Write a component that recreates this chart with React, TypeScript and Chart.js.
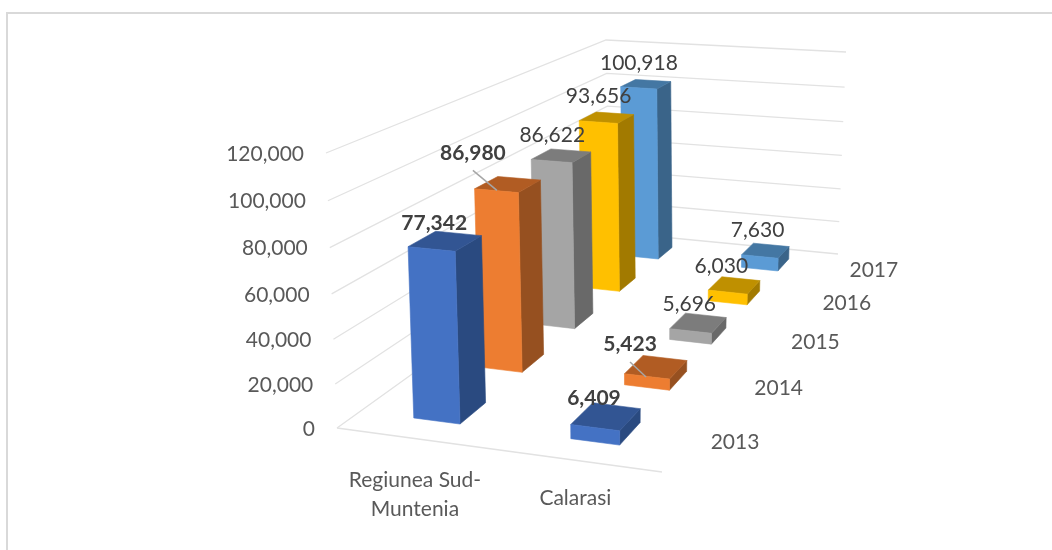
import React, { useEffect, useRef } from "react";
import { Chart, BarController, registerables } from "chart.js";

const categories = ["Regiunea Sud-Muntenia", "Calarasi"];
const categoryLines = [["Regiunea Sud-", "Muntenia"], ["Calarasi"]];
const years = ["2013", "2014", "2015", "2016", "2017"];
const v2013 = [77342, 6409];
const v2014 = [86980, 5423];
const v2015 = [86622, 5696];
const v2016 = [93656, 6030];
const v2017 = [100918, 7630];
const seriesValues = [v2013, v2014, v2015, v2016, v2017];
const frontColors = ["#4472c4", "#ed7d31", "#a5a5a5", "#ffc000", "#5b9bd5"];
const topColors = ["#325593", "#b15c23", "#7c7c7c", "#bf9000", "#4477a3"];
const sideColors = ["#2a4a80", "#965020", "#696969", "#a27a00", "#3a6489"];
const boldSeries = [true, true, false, false, false];
// label shift from the top-centre of each projected bar: [series][category][dx, dy]
const labelShift = [
  [[-11, -18], [-12, -18]],
  [[-35, -31], [-26, -23]],
  [[-9, -20], [-9, -19]],
  [[-8, -21], [-13, -19]],
  [[-7, -21], [-8, -20]],
];
const leaderLines: Record<string, number[]> = { "1-0": [0, 17, 24, 37], "1-1": [0, 18, 16, 33] };
const categoryShift = [[0, 42], [-2, 38]];

// wall corners of the 3D box on screen (px)
const FLOOR = [[337, 428], [662, 472], [838, 254], [610, 232]];
const CEIL = [[326, 153], [667, 182], [846, 52], [606, 40]];
const BAR_W = 0.3;
const BAR_D = 0.39;
const HEIGHT_PERSPECTIVE = 0.05;

type H = number[];
function homography(q: number[][]): H {
  const [[x0, y0], [x1, y1], [x2, y2], [x3, y3]] = q;
  const dx1 = x1 - x2, dx2 = x3 - x2, sx = x0 - x1 + x2 - x3;
  const dy1 = y1 - y2, dy2 = y3 - y2, sy = y0 - y1 + y2 - y3;
  const den = dx1 * dy2 - dx2 * dy1;
  const g = (sx * dy2 - dx2 * sy) / den;
  const h = (dx1 * sy - sx * dy1) / den;
  return [x1 - x0 + g * x1, x3 - x0 + h * x3, x0, y1 - y0 + g * y1, y3 - y0 + h * y3, y0, g, h];
}
const HF = homography(FLOOR);
const HC = homography(CEIL);
function ap(m: H, u: number, v: number) {
  const w = m[6] * u + m[7] * v + 1;
  return [(m[0] * u + m[1] * v + m[2]) / w, (m[3] * u + m[4] * v + m[5]) / w];
}
function project(u: number, v: number, h: number) {
  const a = ap(HF, u, v), b = ap(HC, u, v);
  const t = h / (1 + HEIGHT_PERSPECTIVE * (1 - h));
  return [a[0] + (b[0] - a[0]) * t, a[1] + (b[1] - a[1]) * t];
}
function poly(ctx: CanvasRenderingContext2D, pts: number[][], fill: string) {
  ctx.beginPath();
  pts.forEach((p, i) => (i ? ctx.lineTo(p[0], p[1]) : ctx.moveTo(p[0], p[1])));
  ctx.closePath();
  ctx.fillStyle = fill;
  ctx.strokeStyle = fill;
  ctx.lineWidth = 0.6;
  ctx.fill();
  ctx.stroke();
}
function frac(scale: any, v: number) {
  return scale.getDecimalForPixel(scale.getPixelForValue(v));
}
function barBox(chart: any, j: number, i: number) {
  const { x, y, depth } = chart.scales;
  const uc = frac(x, i), vc = frac(depth, j);
  const du = (BAR_W * 0.5) / categories.length, dv = (BAR_D * 0.5) / years.length;
  const h = frac(y, seriesValues[j][i]);
  return { u0: uc - du, u1: uc + du, v0: vc - dv, v1: vc + dv, h, uc, vc };
}

class Bar3DController extends BarController {
  static id = "bar3d";
  static defaults = BarController.defaults;
  static overrides = BarController.overrides;
  draw() {
    const chart: any = this.chart;
    const ctx = chart.ctx;
    const j = this.index;
    categories.forEach((_c, i) => {
      const b = barBox(chart, j, i);
      const fbl = project(b.u0, b.v0, 0), fbr = project(b.u1, b.v0, 0), bbr = project(b.u1, b.v1, 0);
      const ftl = project(b.u0, b.v0, b.h), ftr = project(b.u1, b.v0, b.h);
      const btr = project(b.u1, b.v1, b.h), btl = project(b.u0, b.v1, b.h);
      poly(ctx, [fbr, bbr, btr, ftr], sideColors[j]);
      poly(ctx, [ftl, ftr, btr, btl], topColors[j]);
      poly(ctx, [fbl, fbr, ftr, ftl], frontColors[j]);
    });
  }
}
Chart.register(...registerables, Bar3DController);

const FONT = "Lato";
const wallsPlugin = {
  id: "walls",
  beforeDatasetsDraw(chart: any) {
    const { ctx } = chart;
    const yS = chart.scales.y;
    ctx.save();
    ctx.strokeStyle = "#d9d9d9";
    ctx.lineWidth = 2;
    ctx.beginPath();
    ctx.moveTo(7, 550);
    ctx.lineTo(7, 13);
    ctx.lineTo(1052, 13);
    ctx.stroke();
    ctx.strokeStyle = "#e2e2e2";
    ctx.lineWidth = 1.3;
    yS.ticks.forEach((t: any) => {
      const h = frac(yS, t.value);
      const a = project(0, 0, h), b = project(0, 1, h), c = project(1, 1, h);
      ctx.beginPath();
      ctx.moveTo(a[0], a[1]);
      ctx.lineTo(b[0], b[1]);
      ctx.lineTo(c[0], c[1]);
      ctx.stroke();
      ctx.fillStyle = "#595959";
      ctx.font = `21px ${FONT}`;
      ctx.textAlign = "right";
      ctx.textBaseline = "middle";
      ctx.fillText(t.value.toLocaleString("en-US"), a[0] - 22, a[1] + 1);
    });
    const p = project(0, 0, 0), q = project(1, 0, 0);
    ctx.beginPath();
    ctx.moveTo(p[0], p[1]);
    ctx.lineTo(q[0], q[1]);
    ctx.stroke();
    ctx.font = `21px ${FONT}`;
    ctx.textAlign = "center";
    ctx.fillStyle = "#595959";
    const xS = chart.scales.x, dS = chart.scales.depth;
    categoryLines.forEach((lines, i) => {
      const a = project(frac(xS, i), 0, 0);
      const s = categoryShift[i];
      lines.forEach((l, k) => ctx.fillText(l, a[0] + s[0], a[1] + s[1] + k * 29));
    });
    years.forEach((yr, j) => {
      const a = project(1, frac(dS, j), 0);
      ctx.fillText(yr, a[0] + 48, a[1] + 1);
    });
    ctx.restore();
  },
  afterDatasetsDraw(chart: any) {
    const { ctx } = chart;
    ctx.save();
    ctx.textAlign = "center";
    ctx.textBaseline = "middle";
    seriesValues.forEach((vals, j) => {
      vals.forEach((val, i) => {
        const b = barBox(chart, j, i);
        const top = project(b.uc, b.vc, b.h);
        const s = labelShift[j][i];
        const lx = top[0] + s[0], ly = top[1] + s[1];
        const ln = leaderLines[`${j}-${i}`];
        if (ln) {
          ctx.strokeStyle = "#a6a6a6";
          ctx.lineWidth = 1.5;
          ctx.beginPath();
          ctx.moveTo(lx + ln[0], ly + ln[1]);
          ctx.lineTo(lx + ln[2], ly + ln[3]);
          ctx.stroke();
        }
        ctx.fillStyle = "#404040";
        ctx.font = `${boldSeries[j] ? "bold " : ""}21px ${FONT}`;
        ctx.fillText(val.toLocaleString("en-US"), lx, ly);
      });
    });
    ctx.restore();
  },
};

export default function App() {
  const ref = useRef<HTMLCanvasElement>(null);
  useEffect(() => {
    document.body.style.margin = "0";
    const chart = new Chart(ref.current!, {
      type: "bar3d" as any,
      data: {
        labels: categories,
        datasets: years.map((y, j) => ({ label: y, data: seriesValues[j], backgroundColor: frontColors[j] })),
      },
      options: {
        responsive: false,
        animation: false,
        layout: { padding: 0 },
        plugins: { legend: { display: false }, tooltip: { enabled: false } },
        scales: {
          x: { type: "category", display: false, offset: true },
          depth: { type: "category", axis: "x", labels: years, display: false, offset: true },
          y: { type: "linear", min: 0, max: 120000, display: false, ticks: { stepSize: 20000 } },
        },
      } as any,
      plugins: [wallsPlugin],
    });
    return () => chart.destroy();
  }, []);
  return <canvas ref={ref} width={1052} height={550} style={{ display: "block", background: "#fff" }} />;
}
